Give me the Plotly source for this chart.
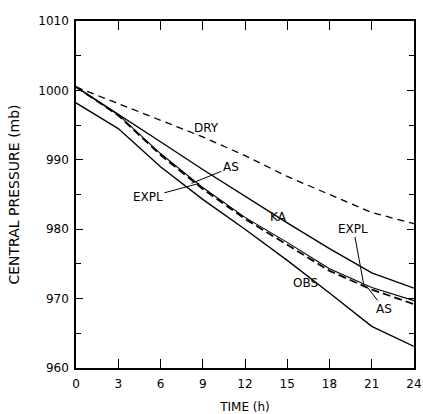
import plotly.graph_objects as go

# Data
time_h = [0, 3, 6, 9, 12, 15, 18, 21, 24]
dry = [1000.5, 998.1, 995.7, 993.3, 990.6, 987.6, 985.0, 982.4, 980.8]
ka = [1000.5, 996.6, 992.6, 988.6, 984.7, 980.9, 977.2, 973.7, 971.5]
expl = [1000.5, 996.5, 990.9, 986.0, 981.7, 978.1, 974.3, 971.6, 969.7]
as_ = [1000.5, 996.4, 990.7, 985.8, 981.5, 977.8, 974.0, 971.3, 969.2]
obs = [998.2, 994.5, 989.0, 984.3, 980.0, 975.5, 970.8, 966.0, 963.1]

x_ticks = [0, 3, 6, 9, 12, 15, 18, 21, 24]
y_ticks = [960, 970, 980, 990, 1000, 1010]

# Curve labels: (text, label_x, label_y, point_x, point_y) ; point None -> no leader
labels = [
    ("DRY", 9.3, 994.6, None, None),
    ("KA", 14.4, 981.8, None, None),
    ("OBS", 16.3, 972.3, None, None),
    ("AS", 11.0, 988.9, 8.2, 986.6),
    ("EXPL", 5.1, 984.6, 8.75, 986.6),
    ("EXPL", 19.7, 980.1, 20.45, 971.8),
    ("AS", 21.9, 968.5, 20.7, 971.6),
]

FONT = "DejaVu Sans"
fig = go.Figure()

fig.add_trace(go.Scatter(x=time_h, y=dry, mode="lines",
                         line=dict(color="black", width=1.3, dash="7px,5px")))
fig.add_trace(go.Scatter(x=time_h, y=ka, mode="lines",
                         line=dict(color="black", width=1.4)))
fig.add_trace(go.Scatter(x=time_h, y=expl, mode="lines",
                         line=dict(color="black", width=1.1)))
fig.add_trace(go.Scatter(x=time_h, y=as_, mode="lines",
                         line=dict(color="black", width=1.8, dash="8px,4px")))
fig.add_trace(go.Scatter(x=time_h, y=obs, mode="lines",
                         line=dict(color="black", width=1.4)))

for text, lx, ly, px, py in labels:
    if px is None:
        fig.add_annotation(x=lx, y=ly, text=text, showarrow=False,
                           font=dict(family=FONT, size=12, color="black"))
    else:
        fig.add_annotation(x=px, y=py, ax=lx, ay=ly, axref="x", ayref="y",
                           text=text, showarrow=True, arrowhead=0,
                           arrowwidth=1, arrowcolor="black", standoff=0,
                           font=dict(family=FONT, size=12, color="black"))

fig.update_layout(
    width=423, height=414,
    margin=dict(l=76, r=9, t=21, b=46),
    plot_bgcolor="white", paper_bgcolor="white",
    showlegend=False,
    font=dict(family=FONT, size=12, color="black"),
)
fig.update_xaxes(
    range=[0, 24], tickvals=x_ticks, ticktext=[str(v) for v in x_ticks],
    ticks="inside", ticklen=9, tickwidth=1.3, tickcolor="black",
    showline=True, linecolor="black", linewidth=1.6, mirror="ticks",
    showgrid=False, zeroline=False, ticklabelstandoff=4, automargin=False,
    ticklabeloverflow="allow",
    title=dict(text="TIME (h)", font=dict(family=FONT, size=12)),
    tickfont=dict(family=FONT, size=12),
)
fig.update_yaxes(
    range=[960, 1010], tickvals=y_ticks, ticktext=[str(v) for v in y_ticks],
    ticks="inside", ticklen=7, tickwidth=1.3, tickcolor="black",
    showline=True, linecolor="black", linewidth=1.6, mirror="ticks",
    showgrid=False, zeroline=False, ticklabelstandoff=3, automargin=False,
    ticklabeloverflow="allow",
    minor=dict(dtick=5, tick0=960, ticks="inside", ticklen=5,
               tickwidth=1.2, tickcolor="black", showgrid=False),
    title=dict(text="CENTRAL PRESSURE (mb)", font=dict(family=FONT, size=14)),
    tickfont=dict(family=FONT, size=12),
)

fig.write_html("out.html")
